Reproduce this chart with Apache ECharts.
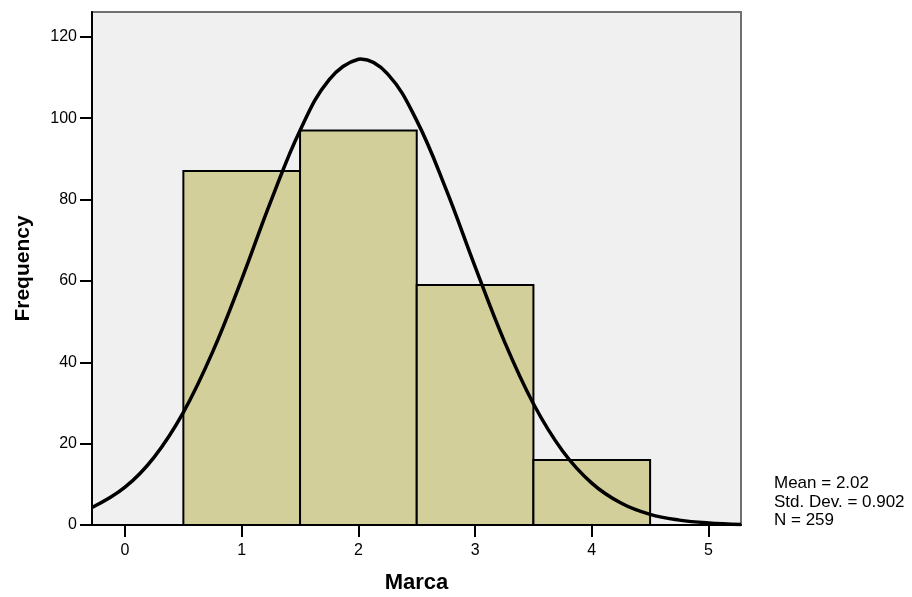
<!DOCTYPE html>
<html>
<head>
<meta charset="utf-8">
<script src="https://cdn.jsdelivr.net/npm/echarts@6/dist/echarts.min.js"></script>
<style>
  html, body { margin: 0; padding: 0; background: #ffffff; }
  #chart { width: 912px; height: 597px; }
</style>
</head>
<body>
<div id="chart"></div>
<script>
// Histogram of "Marca" with a fitted normal curve
const binStarts = [0.5, 1.5, 2.5, 3.5];
const binEnds = [1.5, 2.5, 3.5, 4.5];
const frequencies = [87, 97, 59, 16];

// Normal curve (Mean 2.02, SD 0.902, N 259), read at quarter steps
const curveX = [-0.283, 0, 0.25, 0.5, 0.75, 1, 1.25, 1.5, 1.75, 2, 2.02, 2.25, 2.5, 2.75, 3, 3.25, 3.5, 3.75, 4, 4.25, 4.5, 4.75, 5, 5.279];
const curveY = [4.3, 9.3, 16.7, 27.7, 42.5, 60.4, 79.6, 97.0, 109.5, 114.5, 114.55, 110.9, 99.4, 82.6, 63.5, 45.2, 29.8, 18.2, 10.3, 5.4, 2.6, 1.2, 0.5, 0.15];

const xTicks = [0, 1, 2, 3, 4, 5];
const yTicks = [0, 20, 40, 60, 80, 100, 120];
const statLines = ['Mean = 2.02', 'Std. Dev. = 0.902', 'N = 259'];

const FONT = '"Liberation Sans", Arial, sans-serif';

const chart = echarts.init(document.getElementById('chart'), null, { renderer: 'canvas' });

const barData = frequencies.map((f, i) => [binStarts[i], binEnds[i], f]);
const curveData = curveX.map((x, i) => [x, curveY[i]]);

chart.setOption({
  animation: false,
  backgroundColor: '#ffffff',
  grid: {
    left: 92, top: 12, width: 649, height: 513,
    outerBoundsMode: 'none',
    containLabel: false,
    show: true,
    backgroundColor: '#f0f0f0',
    borderColor: '#707070',
    borderWidth: 2
  },
  xAxis: {
    type: 'value',
    min: -0.283, max: 5.279,
    name: 'Marca',
    nameLocation: 'middle',
    nameGap: 47,
    nameTextStyle: { fontFamily: FONT, fontSize: 22, fontWeight: 'bold', color: '#000' },
    axisLine: { show: true, onZero: false, lineStyle: { color: '#000', width: 2 } },
    axisTick: { show: true, customValues: xTicks, length: 12, lineStyle: { color: '#000', width: 2 } },
    axisLabel: { customValues: xTicks, margin: 18, fontFamily: FONT, fontSize: 16, color: '#000' },
    splitLine: { show: false }
  },
  yAxis: {
    type: 'value',
    min: 0, max: 126.1,
    name: 'Frequency',
    nameLocation: 'middle',
    nameGap: 58,
    nameRotate: 90,
    nameTextStyle: { fontFamily: FONT, fontSize: 21, fontWeight: 'bold', color: '#000' },
    axisLine: { show: true, onZero: false, lineStyle: { color: '#000', width: 2 } },
    axisTick: { show: true, customValues: yTicks, length: 12, lineStyle: { color: '#000', width: 2 } },
    axisLabel: { customValues: yTicks, margin: 15, fontFamily: FONT, fontSize: 16, color: '#000' },
    splitLine: { show: false }
  },
  series: [
    {
      type: 'custom',
      data: barData,
      z: 2,
      renderItem: function (params, api) {
        const p0 = api.coord([api.value(0), api.value(2)]);
        const p1 = api.coord([api.value(1), 0]);
        return {
          type: 'rect',
          shape: { x: p0[0], y: p0[1], width: p1[0] - p0[0], height: p1[1] - p0[1] },
          style: { fill: '#d3cf9b', stroke: '#000', lineWidth: 2 }
        };
      }
    },
    {
      type: 'line',
      data: curveData,
      smooth: 0.4,
      showSymbol: false,
      z: 3,
      lineStyle: { color: '#000', width: 3.5 }
    }
  ],
  graphic: statLines.map((t, i) => ({
    type: 'text',
    left: 774,
    top: 475 + i * 18.5,
    style: { text: t, font: '17px ' + FONT, fill: '#000' }
  }))
});
</script>
</body>
</html>
